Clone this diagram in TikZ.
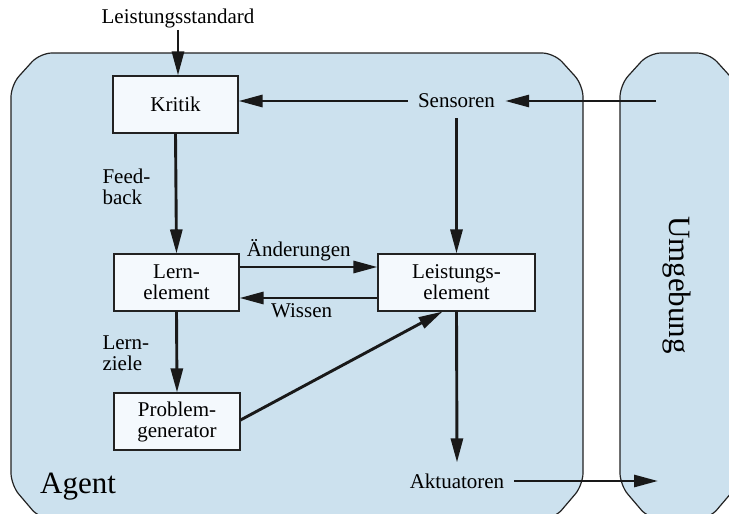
\documentclass[tikz,border=0pt]{standalone}
\usepackage{fontspec}
\setmainfont{Liberation Serif}
\usetikzlibrary{arrows.meta}
\definecolor{regionblue}{HTML}{CCE1EE}
\definecolor{boxfill}{HTML}{F4F9FD}
\definecolor{edgegray}{HTML}{222222}
\tikzset{
  region/.style={fill=regionblue, draw=edgegray, line width=1.2pt, rounded corners=12pt},
  unit/.style={draw=edgegray, fill=boxfill, line width=1.1pt, align=center,
    minimum height=57pt, inner sep=0pt},
  signal/.style={inner sep=10pt},
  arr/.style={line width=2.9pt, draw=black!90, -{Triangle[length=24pt,width=12pt]}},
  lbl/.style={font=\fontsize{21pt}{22pt}\selectfont},
  big/.style={font=\fontsize{31pt}{33pt}\selectfont}
}
\begin{document}
\begin{tikzpicture}[x=1pt,y=-1pt, every node/.style={lbl}]
\useasboundingbox (0,0) rectangle (729,514);
\fill[white] (0,0) rectangle (729,514);
\begin{scope}
  \clip (0,0) rectangle (729,514);
  % agent region
  \path[region] (11,85) -- (40,53) -- (554,53) -- (583,85) -- (583,485)
    -- (554,519) -- (40,519) -- (11,485) -- cycle;
  % environment region
  \path[region] (620,85) -- (649,53) -- (709,53) -- (738,85) -- (738,485)
    -- (709,519) -- (649,519) -- (620,485) -- cycle;
\end{scope}

\node[big] (agentlbl) at (78,487) {Agent};
\node[big, rotate=-90] (envlbl) at (677,285) {Umgebung};

% components
\node[unit, minimum width=125pt] (kritik) at (175.5,104.5) {Kritik};
\node[unit, minimum width=125pt] (lern) at (176.5,282.5) {Lern-\\[-1pt]element};
\node[unit, minimum width=157pt] (leist) at (456.5,282.5) {Leistungs-\\[-1pt]element};
\node[unit, minimum width=126pt] (prob) at (177,421.5) {Problem-\\[-1pt]generator};

% signals
\node[inner sep=2pt] (std) at (178,18) {Leistungsstandard};
\node[signal] (sens) at (456.5,101) {Sensoren};
\node[signal, inner ysep=11pt] (akt) at (457,481) {Aktuatoren};
\coordinate (envin) at (656,101);
\coordinate (envout) at (658,481);

% labels
\node[anchor=west, align=left] (fb) at (99,187) {Feed-\\[-1pt]back};
\node[anchor=west, align=left] (lz) at (99,353) {Lern-\\[-1pt]ziele};

% connectors
\draw[arr] (std.south) -- (std.south |- kritik.north);
\draw[arr] (envin) -- (sens.east);
\draw[arr] (sens.west) -- (sens.west -| kritik.east);
\draw[arr] (sens.south) -- (leist.north);
\draw[arr] (kritik.south) -- (lern.north);
\draw[arr] ([yshift=15.5pt]lern.east) -- node[pos=0.43, above=1pt] (chg) {Änderungen} ([yshift=15.5pt]leist.west);
\draw[arr] ([yshift=-15.5pt]leist.west) -- node[pos=0.55, below=1pt] (know) {Wissen} ([yshift=-15.5pt]lern.east);
\draw[arr] (lern.south) -- (prob.north);
\draw[arr] ([yshift=1.5pt]prob.east) -- ([xshift=-14pt]leist.south);
\draw[arr] (leist.south) -- (akt.north);
\draw[arr] (akt.east) -- (envout);
\end{tikzpicture}
\end{document}
